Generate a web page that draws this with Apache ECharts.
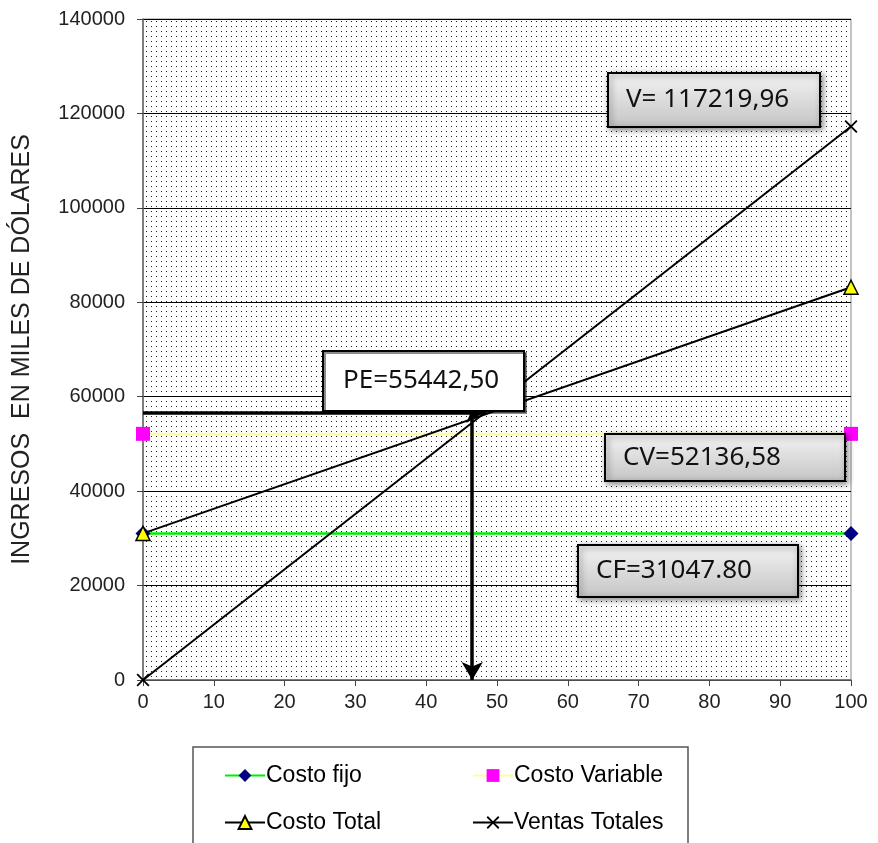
<!DOCTYPE html>
<html>
<head>
<meta charset="utf-8">
<script src="https://cdn.jsdelivr.net/npm/echarts@6/dist/echarts.min.js"></script>
<style>
  html, body { margin: 0; padding: 0; background: #fff; }
  #chart { width: 878px; height: 843px; }
</style>
</head>
<body>
<div id="chart"></div>
<script>
const xValues = [0, 100];
const costoFijo = [31047.80, 31047.80];
const costoVariable = [52136.58, 52136.58];
const costoTotal = [31047.80, 83184.38];
const ventasTotales = [0, 117219.96];

// punto de equilibrio (flechas)
const peY = 56700;
const peArrowX = 46.5;
const peHorizEndX = 48.2;

const pairs = vals => xValues.map((x, i) => [x, vals[i]]);

// fondo punteado del área de trazado
const pat = document.createElement('canvas');
pat.width = 5; pat.height = 5;
const pctx = pat.getContext('2d');
pctx.fillStyle = '#fff';
pctx.fillRect(0, 0, 5, 5);
pctx.fillStyle = '#222';
pctx.fillRect(1, 1, 1, 1);

const crossPath = 'path://M0,1L1,0L5,4L9,0L10,1L6,5L10,9L9,10L5,6L1,10L0,9L4,5Z';
const font = 'Liberation Sans, Arial, sans-serif';
const boxFont = '"Noto Sans", "Open Sans", sans-serif';

const chart = echarts.init(document.getElementById('chart'));

function labelBox(x, y, w, h, text, textX, white) {
  return {
    type: 'group',
    children: [
      {
        type: 'rect',
        shape: { x: x, y: y, width: w, height: h },
        style: {
          fill: white ? '#fff' : new echarts.graphic.LinearGradient(0, 0, 0, 1, [
            { offset: 0, color: '#f4f4f4' },
            { offset: 1, color: '#c4c4c4' }
          ]),
          stroke: '#000',
          lineWidth: 2,
          shadowBlur: white ? 0 : 6,
          shadowOffsetX: 2,
          shadowOffsetY: 2,
          shadowColor: 'rgba(0,0,0,0.45)'
        },
        z: 100
      },
      {
        type: 'text',
        x: textX,
        y: y + h / 2,
        style: {
          text: text,
          font: '26px ' + boxFont,
          fill: '#111',
          verticalAlign: 'middle'
        },
        z: 101
      }
    ]
  };
}

function legendItem(name, left, top) {
  return {
    data: [name],
    left: left,
    top: top,
    itemWidth: 40,
    itemHeight: 16,
    itemGap: 0,
    textStyle: { fontSize: 23, fontFamily: font, color: '#000', padding: [0, 0, 0, -4] }
  };
}

const option = {
  backgroundColor: '#fff',
  animation: false,
  grid: {
    left: 143,
    right: 27,
    top: 19,
    bottom: 163,
    show: true,
    backgroundColor: { image: pat, repeat: 'repeat' },
    borderColor: '#888',
    borderWidth: 1
  },
  xAxis: {
    type: 'value',
    min: 0,
    max: 100,
    interval: 10,
    axisLine: { show: true, onZero: false, lineStyle: { color: '#666', width: 1.5 } },
    axisTick: { show: true, length: 6, lineStyle: { color: '#444' } },
    axisLabel: { color: '#222', fontSize: 20, fontFamily: font, margin: 12 },
    splitLine: { show: false }
  },
  yAxis: {
    type: 'value',
    min: 0,
    max: 140000,
    interval: 20000,
    name: 'INGRESOS  EN MILES DE DÓLARES',
    nameLocation: 'middle',
    nameGap: 108,
    nameTextStyle: { color: '#222', fontSize: 25, fontFamily: font },
    axisLine: { show: true, lineStyle: { color: '#666', width: 1.5 } },
    axisTick: { show: true, length: 6, lineStyle: { color: '#444' } },
    axisLabel: { color: '#222', fontSize: 20, fontFamily: font, margin: 18, formatter: v => String(v) },
    splitLine: { show: true, lineStyle: { color: '#000', width: 1 } }
  },
  legend: [
    legendItem('Costo fijo', 219, 759),
    legendItem('Costo Variable', 467, 759),
    legendItem('Costo Total', 219, 806),
    legendItem('Ventas Totales', 467, 806)
  ],
  graphic: [
    {
      type: 'rect',
      shape: { x: 193, y: 747, width: 495, height: 100 },
      style: { fill: 'none', stroke: '#555', lineWidth: 1.5 }
    },
    labelBox(608, 73, 212, 54, 'V= 117219,96', 626, false),
    labelBox(323, 351, 201, 60, 'PE=55442,50', 343, true),
    labelBox(605, 434, 240, 47, 'CV=52136,58', 623, false),
    labelBox(578, 545, 220, 52, 'CF=31047.80', 596, false)
  ],
  series: [
    {
      name: 'Costo fijo',
      type: 'line',
      data: pairs(costoFijo),
      symbol: 'diamond',
      symbolSize: 15,
      lineStyle: { color: '#00ee00', width: 2.5 },
      itemStyle: { color: '#000080' },
      z: 3
    },
    {
      name: 'Costo Variable',
      type: 'line',
      data: pairs(costoVariable),
      symbol: 'rect',
      symbolSize: 14,
      lineStyle: { color: '#ffff99', width: 2 },
      itemStyle: { color: '#ff00ff' },
      z: 3
    },
    {
      name: 'Costo Total',
      type: 'line',
      data: pairs(costoTotal),
      symbol: 'triangle',
      symbolSize: 14,
      lineStyle: { color: '#000', width: 2 },
      itemStyle: { color: '#ffff00', borderColor: '#000', borderWidth: 1.5 },
      z: 4
    },
    {
      name: 'Ventas Totales',
      type: 'line',
      data: pairs(ventasTotales),
      symbol: crossPath,
      symbolSize: 13,
      lineStyle: { color: '#000', width: 2 },
      itemStyle: { color: '#000' },
      z: 4,
      markLine: {
        silent: true,
        symbol: ['none', 'arrow'],
        symbolSize: [16, 18],
        label: { show: false },
        lineStyle: { color: '#000', width: 3.5, type: 'solid' },
        data: [
          [{ coord: [0, peY] }, { coord: [peHorizEndX, peY] }],
          [{ coord: [peArrowX, peY] }, { coord: [peArrowX, 0] }]
        ]
      }
    }
  ]
};

chart.setOption(option);
</script>
</body>
</html>
